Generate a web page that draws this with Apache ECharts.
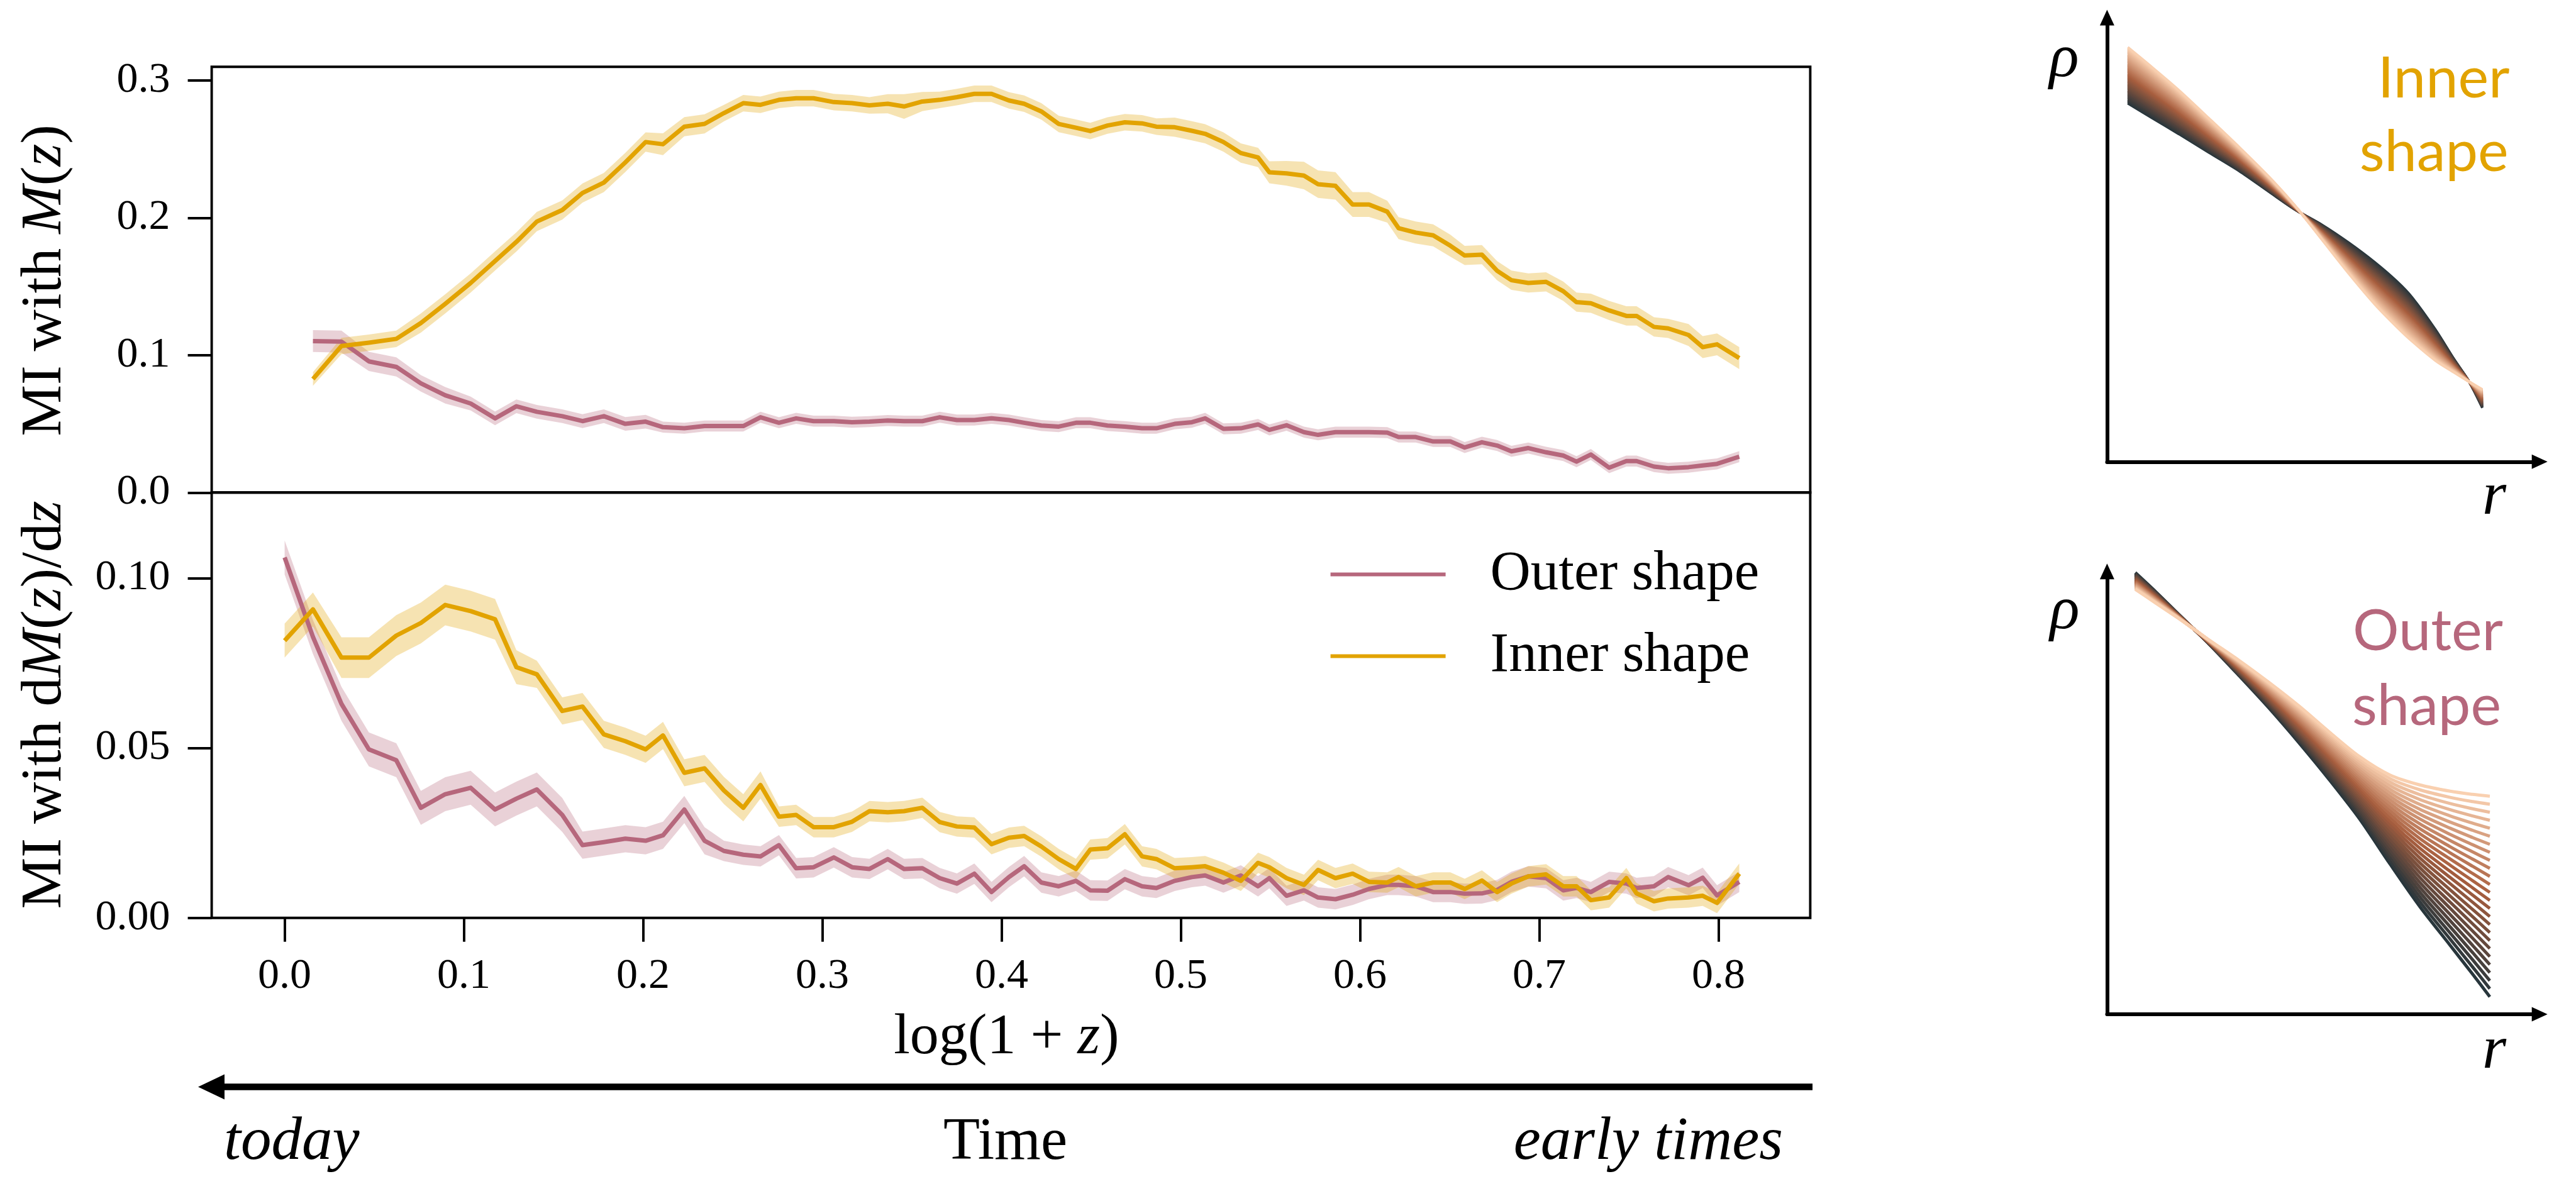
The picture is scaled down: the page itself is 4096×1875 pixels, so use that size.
<!DOCTYPE html>
<html>
<head>
<meta charset="utf-8">
<script src="https://cdn.jsdelivr.net/npm/echarts@6/dist/echarts.min.js"></script>
<style>
  html, body { margin: 0; padding: 0; background: #fff; }
  #chart { width: 4096px; height: 1875px; }
</style>
</head>
<body>
<div id="chart"></div>
<script>
// ---- data -------------------------------------------------------------
// log(1+z) sampling; the M(z) panel starts at the second entry
const logOnePlusZ = [
  0.0000, 0.0158, 0.0317, 0.0470, 0.0623, 0.0760, 0.0896, 0.1038, 0.1174, 0.1293, 0.1407, 0.1549, 0.1662,
  0.1781, 0.1901, 0.2014, 0.2111, 0.2230, 0.2343, 0.2451, 0.2559, 0.2655, 0.2758, 0.2854, 0.2951, 0.3064, 0.3166, 0.3263, 0.3365,
  0.3456, 0.3558, 0.3655, 0.3751, 0.3848, 0.3944, 0.4041, 0.4126, 0.4222, 0.4319, 0.4415, 0.4495, 0.4591, 0.4688, 0.4784, 0.4864, 0.4966, 0.5062,
  0.5136, 0.5238, 0.5335, 0.5431, 0.5494, 0.5590, 0.5687, 0.5766, 0.5863, 0.5959, 0.6050, 0.6152, 0.6215, 0.6311, 0.6408, 0.6504, 0.6584, 0.6680, 0.6765,
  0.6845, 0.6939, 0.7038, 0.7134, 0.7208, 0.7288, 0.7390, 0.7486, 0.7543, 0.7640, 0.7719, 0.7833, 0.7912, 0.7992, 0.8116
];

// MI with M(z)
const miMassInner = [
  0.0827, 0.1067, 0.1091, 0.1119, 0.1234, 0.1374, 0.1526, 0.1686, 0.1825, 0.1973, 0.2057, 0.2181,
  0.2257, 0.2404, 0.2552, 0.2536, 0.2664, 0.2684, 0.2763, 0.2835, 0.2823, 0.2859, 0.2871, 0.2871, 0.2843, 0.2835, 0.2819, 0.2831,
  0.2811, 0.2847, 0.2859, 0.2879, 0.2903, 0.2903, 0.2855, 0.2831, 0.2775, 0.2684, 0.2656, 0.2632, 0.2672, 0.2696, 0.2688, 0.2664, 0.2660, 0.2634,
  0.2612, 0.2552, 0.2472, 0.2440, 0.2332, 0.2324, 0.2308, 0.2245, 0.2233, 0.2097, 0.2097, 0.2045, 0.1925, 0.1893, 0.1873, 0.1797, 0.1726, 0.1732, 0.1615,
  0.1546, 0.1526, 0.1534, 0.1466, 0.1386, 0.1378, 0.1326, 0.1286, 0.1286, 0.1206, 0.1195, 0.1147, 0.1059, 0.1079, 0.0979
];
const miMassInnerErr = [
  0.005, 0.006, 0.006, 0.006, 0.007, 0.007, 0.007, 0.007, 0.007, 0.007, 0.007, 0.007,
  0.007, 0.007, 0.007, 0.008, 0.007, 0.007, 0.006, 0.006, 0.006, 0.006, 0.006, 0.006, 0.006, 0.006, 0.006, 0.007,
  0.009, 0.007, 0.006, 0.006, 0.006, 0.006, 0.006, 0.006, 0.006, 0.006, 0.006, 0.006, 0.006, 0.006, 0.006, 0.006, 0.007, 0.007,
  0.007, 0.007, 0.007, 0.007, 0.008, 0.009, 0.010, 0.010, 0.010, 0.009, 0.009, 0.008, 0.008, 0.008, 0.008, 0.008, 0.007, 0.007, 0.007,
  0.007, 0.007, 0.007, 0.007, 0.007, 0.007, 0.007, 0.007, 0.007, 0.007, 0.007, 0.008, 0.008, 0.008, 0.008
];
const miMassOuter = [
  0.1103, 0.1099, 0.0955, 0.0915, 0.0795, 0.0708, 0.0648, 0.0540, 0.0628, 0.0588, 0.0556, 0.0520,
  0.0556, 0.0500, 0.0516, 0.0476, 0.0468, 0.0484, 0.0484, 0.0484, 0.0548, 0.0508, 0.0540, 0.0520, 0.0520, 0.0512, 0.0516, 0.0524,
  0.0520, 0.0520, 0.0548, 0.0528, 0.0528, 0.0540, 0.0528, 0.0508, 0.0488, 0.0480, 0.0508, 0.0508, 0.0488, 0.0480, 0.0468, 0.0468, 0.0500, 0.0512,
  0.0540, 0.0464, 0.0468, 0.0496, 0.0456, 0.0490, 0.0440, 0.0420, 0.0440, 0.0440, 0.0440, 0.0436, 0.0404, 0.0404, 0.0372, 0.0372, 0.0328, 0.0366, 0.0342,
  0.0300, 0.0324, 0.0293, 0.0269, 0.0225, 0.0277, 0.0181, 0.0229, 0.0229, 0.0189, 0.0177, 0.0185, 0.0197, 0.0209, 0.0261
];
const miMassOuterErr = [
  0.008, 0.008, 0.007, 0.007, 0.006, 0.006, 0.005, 0.005, 0.005, 0.005, 0.005, 0.005,
  0.005, 0.005, 0.005, 0.004, 0.004, 0.004, 0.004, 0.004, 0.004, 0.004, 0.004, 0.004, 0.004, 0.004, 0.004, 0.004,
  0.004, 0.004, 0.004, 0.004, 0.004, 0.004, 0.004, 0.004, 0.004, 0.004, 0.004, 0.004, 0.004, 0.004, 0.004, 0.004, 0.004, 0.004,
  0.004, 0.004, 0.004, 0.004, 0.004, 0.004, 0.004, 0.004, 0.004, 0.004, 0.004, 0.004, 0.004, 0.004, 0.004, 0.004, 0.004, 0.004, 0.004,
  0.004, 0.004, 0.004, 0.004, 0.004, 0.004, 0.004, 0.004, 0.004, 0.004, 0.004, 0.004, 0.004, 0.004, 0.004
];

// MI with dM(z)/dz
const miRateOuter = [
  0.1061, 0.0827, 0.0630, 0.0496, 0.0464, 0.0324, 0.0364, 0.0383, 0.0319, 0.0351, 0.0378, 0.0303, 0.0214,
  0.0223, 0.0233, 0.0227, 0.0243, 0.0319, 0.0227, 0.0197, 0.0186, 0.0181, 0.0214, 0.0146, 0.0149, 0.0178, 0.0149, 0.0144, 0.0173,
  0.0144, 0.0146, 0.0117, 0.0101, 0.0130, 0.0076, 0.0120, 0.0152, 0.0104, 0.0093, 0.0109, 0.0081, 0.0080, 0.0114, 0.0093, 0.0088, 0.0109, 0.0120,
  0.0125, 0.0104, 0.0125, 0.0093, 0.0117, 0.0065, 0.0081, 0.0060, 0.0055, 0.0068, 0.0085, 0.0097, 0.0097, 0.0093, 0.0076, 0.0076, 0.0071, 0.0072, 0.0082,
  0.0106, 0.0122, 0.0117, 0.0081, 0.0088, 0.0076, 0.0106, 0.0101, 0.0088, 0.0093, 0.0120, 0.0096, 0.0118, 0.0066, 0.0106
];
const miRateOuterErr = [
  0.005, 0.005, 0.005, 0.005, 0.005, 0.005, 0.005, 0.005, 0.005, 0.005, 0.005, 0.005, 0.004,
  0.004, 0.004, 0.004, 0.004, 0.004, 0.004, 0.003, 0.003, 0.003, 0.003, 0.003, 0.003, 0.003, 0.003, 0.003, 0.003,
  0.003, 0.003, 0.003, 0.003, 0.003, 0.003, 0.003, 0.003, 0.003, 0.003, 0.003, 0.003, 0.003, 0.003, 0.003, 0.003, 0.003, 0.003,
  0.003, 0.003, 0.003, 0.003, 0.003, 0.003, 0.003, 0.003, 0.003, 0.003, 0.003, 0.003, 0.003, 0.003, 0.003, 0.003, 0.003, 0.003, 0.003,
  0.003, 0.003, 0.003, 0.003, 0.003, 0.003, 0.003, 0.003, 0.003, 0.003, 0.003, 0.003, 0.003, 0.003, 0.003
];
const miRateInner = [
  0.0816, 0.0908, 0.0766, 0.0766, 0.0831, 0.0868, 0.0921, 0.0903, 0.0879, 0.0738, 0.0717, 0.0609, 0.0622,
  0.0540, 0.0520, 0.0496, 0.0537, 0.0427, 0.0440, 0.0375, 0.0324, 0.0391, 0.0298, 0.0303, 0.0267, 0.0267, 0.0283, 0.0314, 0.0311,
  0.0314, 0.0324, 0.0282, 0.0269, 0.0266, 0.0217, 0.0236, 0.0241, 0.0210, 0.0173, 0.0144, 0.0201, 0.0205, 0.0246, 0.0181, 0.0173, 0.0146, 0.0149,
  0.0152, 0.0133, 0.0109, 0.0162, 0.0149, 0.0117, 0.0097, 0.0141, 0.0117, 0.0130, 0.0106, 0.0104, 0.0120, 0.0093, 0.0104, 0.0104, 0.0085, 0.0110, 0.0076,
  0.0101, 0.0122, 0.0128, 0.0093, 0.0093, 0.0052, 0.0060, 0.0117, 0.0072, 0.0049, 0.0057, 0.0060, 0.0065, 0.0044, 0.0130
];
const miRateInnerErr = [
  0.005, 0.005, 0.006, 0.006, 0.006, 0.006, 0.006, 0.006, 0.006, 0.005, 0.004, 0.004, 0.004,
  0.004, 0.004, 0.004, 0.004, 0.004, 0.004, 0.004, 0.004, 0.004, 0.003, 0.003, 0.003, 0.003, 0.003, 0.003, 0.003,
  0.003, 0.003, 0.003, 0.003, 0.003, 0.003, 0.003, 0.003, 0.003, 0.003, 0.003, 0.003, 0.003, 0.003, 0.003, 0.003, 0.003, 0.003,
  0.003, 0.003, 0.003, 0.003, 0.003, 0.003, 0.003, 0.003, 0.003, 0.003, 0.003, 0.003, 0.003, 0.003, 0.003, 0.003, 0.003, 0.003, 0.003,
  0.003, 0.003, 0.003, 0.003, 0.003, 0.003, 0.003, 0.003, 0.003, 0.003, 0.003, 0.003, 0.003, 0.003, 0.003
];

const xTicks = [0, 0.1, 0.2, 0.3, 0.4, 0.5, 0.6, 0.7, 0.8];
const massTicks = [0, 0.1, 0.2, 0.3];
const rateTicks = [0, 0.05, 0.1];

// schematic density profiles: the two extreme members of each family
const innerR     = [4.7, 10.3, 16.3, 23.1, 30.0, 36.8, 42.8, 48.8, 54.8, 60.8, 65.9, 69.3, 74.5, 78.7, 82.2, 85.2];
const innerEarly = [79.3, 76.0, 72.5, 68.4, 64.3, 59.7, 55.7, 52.4, 48.5, 44.1, 39.8, 36.3, 29.3, 22.8, 17.7, 11.9];
const innerLate  = [91.7, 87.2, 82.2, 76.0, 69.6, 63.0, 56.5, 49.1, 41.7, 34.8, 29.7, 26.6, 22.4, 19.8, 17.7, 16.0];
const outerR     = [6.4, 11.1, 16.3, 23.1, 30.0, 36.8, 43.7, 50.5, 57.3, 64.2, 71.0, 77.9, 83.0, 86.9];
const outerEarly = [98.0, 93.7, 88.7, 82.2, 75.1, 67.9, 60.1, 52.0, 43.4, 33.4, 23.9, 15.3, 8.9, 3.9];
const outerLate  = [94.3, 91.2, 87.8, 83.1, 78.5, 73.6, 68.3, 62.6, 57.2, 53.1, 50.9, 49.5, 48.8, 48.4];

// ---- styling ------------------------------------------------------------
const PINK = '#B6677C';
const GOLD = '#E2A300';
const PINK_BAND = 'rgba(182,103,124,0.3)';
const GOLD_BAND = 'rgba(226,163,0,0.3)';
const SERIF = '"Liberation Serif", "DejaVu Serif", serif';
const SANS = 'Lato, "Open Sans", sans-serif';
const RAMP = [[0, [40, 54, 60]], [0.5, [168, 94, 62]], [1, [249, 208, 176]]];

function rampColor(t) {
  for (let i = 1; i < RAMP.length; i++) {
    if (t <= RAMP[i][0]) {
      const a = RAMP[i - 1], b = RAMP[i];
      const f = (t - a[0]) / (b[0] - a[0]);
      const c = a[1].map((v, k) => Math.round(v + f * (b[1][k] - v)));
      return 'rgb(' + c.join(',') + ')';
    }
  }
  return 'rgb(' + RAMP[RAMP.length - 1][1].join(',') + ')';
}

function pairs(xs, ys) { return xs.map((x, i) => [x, ys[i]]); }

function bandSeries(name, xs, ys, err, fill, gi) {
  return {
    type: 'custom', name: name, xAxisIndex: gi, yAxisIndex: gi, silent: true,
    data: [[xs[0], ys[0]]],
    renderItem: function (params, api) {
      const pts = [];
      for (let i = 0; i < xs.length; i++) pts.push(api.coord([xs[i], ys[i] + err[i]]));
      for (let i = xs.length - 1; i >= 0; i--) pts.push(api.coord([xs[i], ys[i] - err[i]]));
      return { type: 'polygon', shape: { points: pts }, style: { fill: fill } };
    }
  };
}

function lineSeries(name, xs, ys, color, gi) {
  return {
    type: 'line', name: name, xAxisIndex: gi, yAxisIndex: gi, silent: true,
    data: pairs(xs, ys), showSymbol: false, symbol: 'none',
    lineStyle: { color: color, width: 7, join: 'round' },
    itemStyle: { color: color }
  };
}

// family of profiles fanned between the two extremes, dark to light
function profileFamily(rs, early, late, count, width, gi) {
  const out = [];
  for (let k = 0; k < count; k++) {
    const t = k / (count - 1);
    const ys = early.map((e, i) => e + t * (late[i] - e));
    out.push({
      type: 'line', xAxisIndex: gi, yAxisIndex: gi, silent: true,
      data: pairs(rs, ys), showSymbol: false, symbol: 'none', smooth: 0.3,
      lineStyle: { color: rampColor(t), width: width }
    });
  }
  return out;
}

const xMass = logOnePlusZ.slice(1);

const series = [
  bandSeries('Outer band M', xMass, miMassOuter, miMassOuterErr, PINK_BAND, 0),
  lineSeries('Outer shape', xMass, miMassOuter, PINK, 0),
  bandSeries('Inner band M', xMass, miMassInner, miMassInnerErr, GOLD_BAND, 0),
  lineSeries('Inner shape', xMass, miMassInner, GOLD, 0),
  bandSeries('Outer band dM', logOnePlusZ, miRateOuter, miRateOuterErr, PINK_BAND, 1),
  lineSeries('Outer shape', logOnePlusZ, miRateOuter, PINK, 1),
  bandSeries('Inner band dM', logOnePlusZ, miRateInner, miRateInnerErr, GOLD_BAND, 1),
  lineSeries('Inner shape', logOnePlusZ, miRateInner, GOLD, 1)
].concat(
  profileFamily(innerR, innerEarly, innerLate, 40, 4, 2),
  profileFamily(outerR, outerEarly, outerLate, 26, 5, 3)
);

const frameGrid = { show: true, borderColor: '#000', borderWidth: 3.9, backgroundColor: 'transparent', outerBoundsMode: 'none' };
const tickStyle = { color: '#000', width: 3.9 };
const tickFont = { color: '#000', fontFamily: SERIF, fontSize: 68 };

function mainX(gi, withTicks) {
  return {
    gridIndex: gi, type: 'value', min: -0.0407, max: 0.8512, position: 'bottom',
    axisLine: { show: false, onZero: false }, splitLine: { show: false },
    axisTick: { show: withTicks, customValues: xTicks, length: 38, inside: false, lineStyle: tickStyle },
    axisLabel: Object.assign({ show: withTicks, customValues: xTicks, margin: 59, lineHeight: 68,
      formatter: v => v.toFixed(1) }, tickFont)
  };
}
function mainY(gi, max, ticks, digits) {
  return {
    gridIndex: gi, type: 'value', min: 0, max: max, position: 'left',
    axisLine: { show: false, onZero: false }, splitLine: { show: false },
    axisTick: { show: true, customValues: ticks, length: 38, inside: false, lineStyle: tickStyle },
    axisLabel: Object.assign({ show: true, customValues: ticks, margin: 66,
      formatter: v => v.toFixed(digits) }, tickFont)
  };
}
function sketchAxis(gi, max) {
  return {
    gridIndex: gi, type: 'value', min: 0, max: max,
    axisLine: { show: true, onZero: false, lineStyle: { color: '#000', width: 6 },
      symbol: ['none', 'triangle'], symbolSize: [23, 25] },
    axisTick: { show: false }, axisLabel: { show: false }, splitLine: { show: false }
  };
}

function txt(x, y, text, font, color, align) {
  return {
    type: 'text', x: x, y: y, silent: true,
    style: { text: text, font: font, fill: color || '#000', align: align || 'center', verticalAlign: 'middle' }
  };
}

const mathRich = {
  r: { fontFamily: SERIF, fontSize: 92, fill: '#000', lineHeight: 92 },
  i: { fontFamily: SERIF, fontSize: 92, fontStyle: 'italic', fill: '#000', lineHeight: 92 }
};
function richText(x, y, text, rotation) {
  return {
    type: 'text', x: x, y: y, rotation: rotation || 0, silent: true,
    style: { text: text, rich: mathRich, align: 'center', verticalAlign: 'middle', fill: '#000' }
  };
}

const graphics = [
  richText(71.8, 446, '{r|MI with }{i|M}{r|(}{i|z}{r|)}', Math.PI / 2),
  richText(71.8, 1121, '{r|MI with d}{i|M}{r|(}{i|z}{r|)/d}{i|z}', Math.PI / 2),
  richText(1600.5, 1651, '{r|log(1 + }{i|z}{r|)}', 0),
  // time arrow
  { type: 'rect', silent: true, shape: { x: 355, y: 1723.35, width: 2527, height: 10.3 }, style: { fill: '#000' } },
  { type: 'polygon', silent: true, shape: { points: [[315, 1728.5], [357, 1708.5], [357, 1748.5]] }, style: { fill: '#000' } },
  txt(356, 1817.6, 'today', 'italic 97px ' + SERIF, '#000', 'left'),
  txt(1598.6, 1817.7, 'Time', '95px ' + SERIF, '#000', 'center'),
  txt(2835, 1817.6, 'early times', 'italic 97px ' + SERIF, '#000', 'right'),
  // schematic labels
  txt(3282, 95.4, 'ρ', 'italic 98px ' + SERIF, '#000', 'center'),
  txt(3966, 791.4, 'r', 'italic 98px ' + SERIF, '#000', 'center'),
  txt(3990.6, 125.4, 'Inner', '92px ' + SANS, GOLD, 'right'),
  txt(3988.7, 242.8, 'shape', '92px ' + SANS, GOLD, 'right'),
  txt(3283, 973.3, 'ρ', 'italic 98px ' + SERIF, '#000', 'center'),
  txt(3966, 1672.2, 'r', 'italic 98px ' + SERIF, '#000', 'center'),
  txt(3980, 1004.4, 'Outer', '92px ' + SANS, PINK, 'right'),
  txt(3977, 1123.4, 'shape', '92px ' + SANS, PINK, 'right')
];

const option = {
  animation: false,
  backgroundColor: '#fff',
  grid: [
    Object.assign({ left: 336.6, top: 106.2, width: 2541.8, height: 677.1 }, frameGrid),
    Object.assign({ left: 336.6, top: 783.3, width: 2541.8, height: 676.4 }, frameGrid),
    { left: 3350.4, top: 28, width: 687.8, height: 706.3, show: false, outerBoundsMode: 'none' },
    { left: 3350.4, top: 908.8, width: 687.8, height: 704.3, show: false, outerBoundsMode: 'none' }
  ],
  xAxis: [mainX(0, false), mainX(1, true), sketchAxis(2, 98.21), sketchAxis(3, 98.21)],
  yAxis: [mainY(0, 0.31, massTicks, 1), mainY(1, 0.1252, rateTicks, 2), sketchAxis(2, 98.26), sketchAxis(3, 98.26)],
  legend: {
    data: ['Outer shape', 'Inner shape'],
    orient: 'vertical', left: 2115.6, top: 869, padding: 0,
    icon: 'rect', itemWidth: 183, itemHeight: 6, itemGap: 41,
    selectedMode: false,
    textStyle: { fontFamily: SERIF, fontSize: 89, color: '#000', lineHeight: 89, padding: [0, 0, 0, 66] }
  },
  series: series,
  graphic: { elements: graphics }
};

const chart = echarts.init(document.getElementById('chart'), null, { renderer: 'canvas' });
chart.setOption(option);
</script>
</body>
</html>
